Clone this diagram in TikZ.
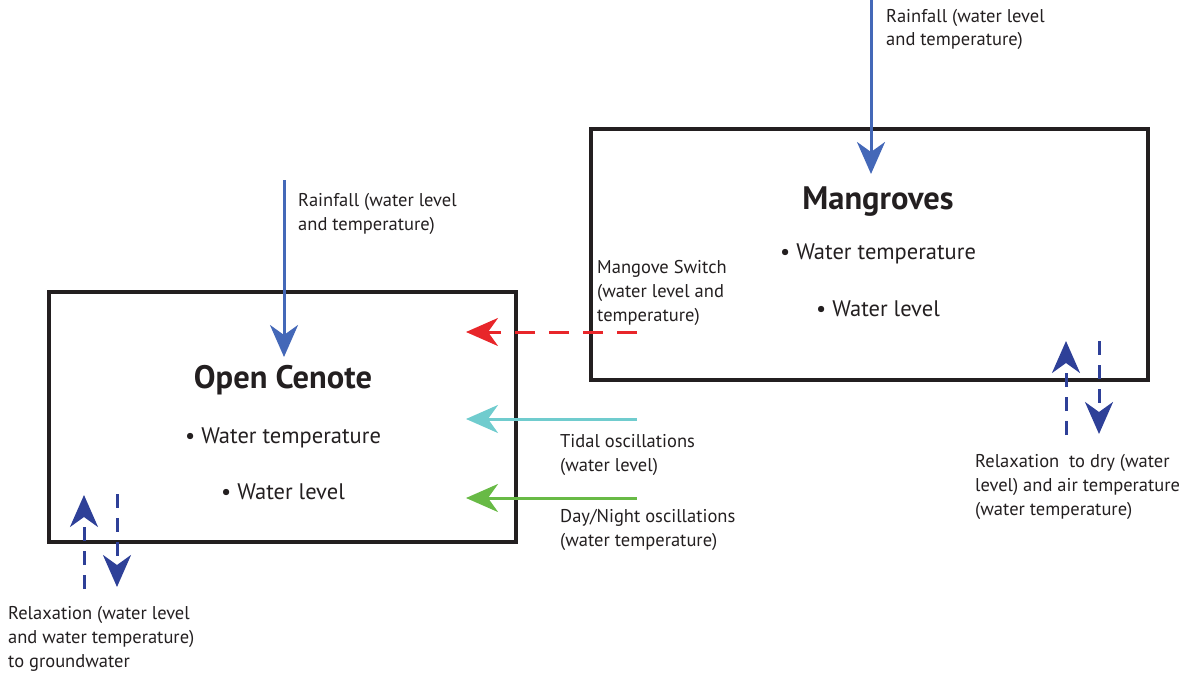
\documentclass[tikz,border=0pt]{standalone}
\usepackage{fontspec}
\setmainfont{PT Sans}
\usetikzlibrary{arrows.meta}

\definecolor{rainblue}{RGB}{68,104,184}
\definecolor{relaxblue}{RGB}{46,64,152}
\definecolor{switchred}{RGB}{232,38,42}
\definecolor{tidecyan}{RGB}{112,204,206}
\definecolor{daygreen}{RGB}{104,186,70}
\definecolor{ink}{RGB}{35,31,32}

\tikzset{
  site/.style={draw=ink, line width=3.2pt, inner sep=0pt},
  title/.style={font=\fontsize{32.5}{36}\selectfont\bfseries, text=ink},
  item/.style={font=\fontsize{22.5}{26}\selectfont, text=ink},
  note/.style={font=\fontsize{18.5}{24}\selectfont, text=ink, align=left, anchor=base west, inner sep=0pt},
  bigtip/.style={-{Stealth[length=32pt,width=28pt,inset=10pt]}},
  flux/.style={bigtip, line width=3pt},
  relax/.style={bigtip, line width=3pt, relaxblue, dash pattern=on 14pt off 10pt}
}

\begin{document}
\begin{tikzpicture}[x=1pt,y=-1pt]
  \useasboundingbox (0,0) rectangle (1201,677);

  % the two sites
  \node[site, minimum width=467pt, minimum height=250pt] (cenote) at (282.5,417) {};
  \node[site, minimum width=557pt, minimum height=251pt] (mangrove) at (869.5,254.5) {};

  \node[title] (cenotename) at (283,380) {Open Cenote};
  \node[item] (cenotetemp) at (283,438) {\textbullet\ Water temperature};
  \node[item] (cenotelevel) at (283,492) {\textbullet\ Water level};

  \node[title] (mangname) at (878,202) {Mangroves};
  \node[item] (mangtemp) at (878,254) {\textbullet\ Water temperature};
  \node[item] (manglevel) at (878,309) {\textbullet\ Water level};

  % rainfall
  \coordinate (rainA) at (284,180);
  \coordinate (rainAend) at (284,357);
  \coordinate (rainB) at (871,0);
  \coordinate (rainBend) at (871,174);
  \draw[flux, rainblue] (rainA) -- (rainAend);
  \draw[flux, rainblue] (rainB) -- (rainBend);
  \node[note] (rainAtext) at (298,230) {Rainfall (water level\\and temperature)};
  \node[note] (rainBtext) at (886,46) {Rainfall (water level\\and temperature)};

  % exchanges between the sites
  \coordinate (switchS) at (637,332);
  \coordinate (switchE) at (466,332);
  \coordinate (tideS) at (637,419);
  \coordinate (tideE) at (466,419);
  \coordinate (dayS) at (637,498);
  \coordinate (dayE) at (466,498);
  \draw[flux, switchred, dash pattern=on 20pt off 14pt] (switchS) -- (switchE);
  \draw[flux, tidecyan] (tideS) -- (tideE);
  \draw[flux, daygreen] (dayS) -- (dayE);
  \node[note] (switchtext) at (597,321) {Mangove Switch\\(water level and\\temperature)};
  \node[note] (tidetext) at (560,471) {Tidal oscillations\\(water level)};
  \node[note] (daytext) at (560,546) {Day/Night oscillations\\(water temperature)};

  % relaxation
  \coordinate (relaxAup) at (84,589);
  \coordinate (relaxAupE) at (84,495);
  \coordinate (relaxAdn) at (117,494);
  \coordinate (relaxAdnE) at (117,587);
  \draw[relax] (relaxAup) -- (relaxAupE);
  \draw[relax] (relaxAdn) -- (relaxAdnE);
  \node[note] (relaxAtext) at (8,667) {Relaxation (water level\\and water temperature)\\to groundwater};

  \coordinate (relaxBup) at (1066,435);
  \coordinate (relaxBupE) at (1066,341);
  \coordinate (relaxBdn) at (1099,341);
  \coordinate (relaxBdnE) at (1099,434);
  \draw[relax] (relaxBup) -- (relaxBupE);
  \draw[relax] (relaxBdn) -- (relaxBdnE);
  \node[note] (relaxBtext) at (975,515) {Relaxation\ \ to dry (water\\level) and air temperature\\(water temperature)};
\end{tikzpicture}
\end{document}
